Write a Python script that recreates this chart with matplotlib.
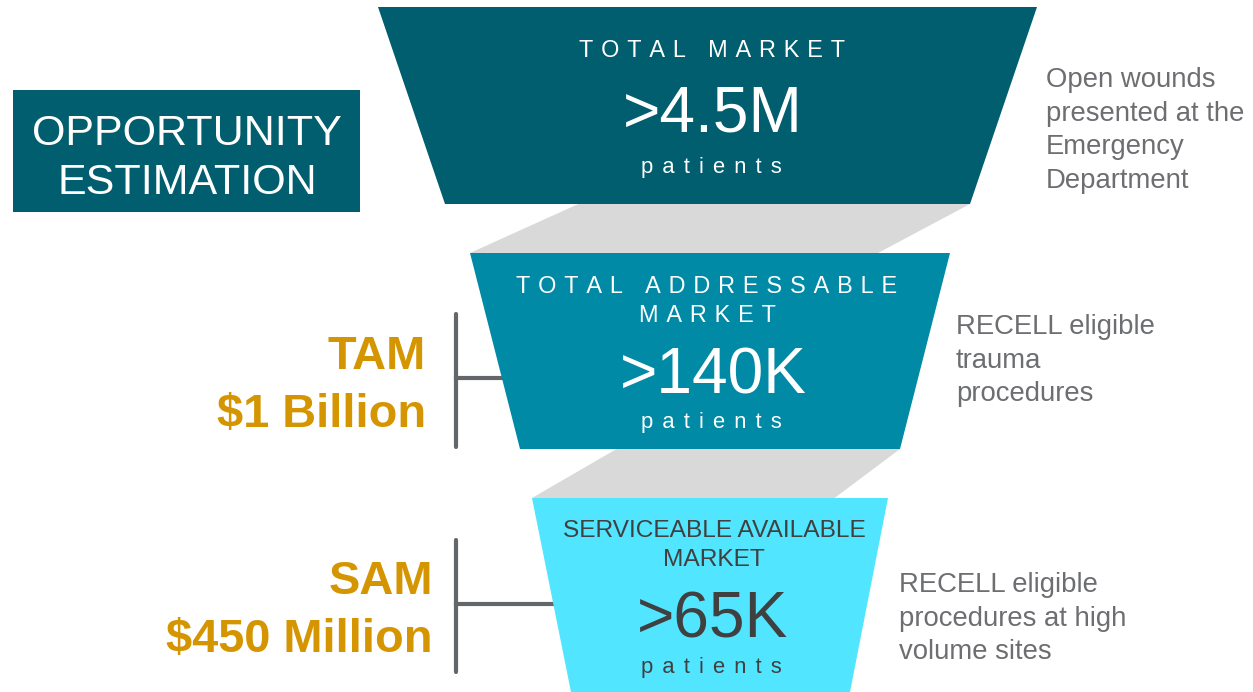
import matplotlib.pyplot as plt
from matplotlib.patches import Polygon, Rectangle

plt.rcParams['font.family'] = ['Liberation Sans', 'DejaVu Sans']

# --- content ---------------------------------------------------------------
headline = ["OPPORTUNITY", "ESTIMATION"]
stage_titles = [["TOTAL MARKET"],
                ["TOTAL ADDRESSABLE", "MARKET"],
                ["SERVICEABLE AVAILABLE", "MARKET"]]
stage_values = [">4.5M", ">140K", ">65K"]
stage_unit = "patients"
stage_notes = [
    ["Open wounds", "presented at the", "Emergency", "Department"],
    ["RECELL eligible", "trauma", "procedures"],
    ["RECELL eligible", "procedures at high", "volume sites"],
]
market_names = ["TAM", "SAM"]
market_sizes = ["$1 Billion", "$450 Million"]

# --- style -----------------------------------------------------------------
band_colors = ["#005e6e", "#008aa6", "#52e5ff"]
band_text = ["white", "white", "#404040"]
band_tracked = [True, True, False]
connector_color = "#d9d9d9"
gold = "#d49500"
note_color = "#6d6e71"
bracket_color = "#63666a"

# --- layout (pixel space, y down) ------------------------------------------
W, H = 1253, 692
# y_top, y_bottom, x top-left, x top-right, x bottom-left, x bottom-right
bands = [
    (7, 204, 378, 1037, 445, 970),
    (253, 449, 470, 950, 520, 900),
    (498, 692, 532, 888, 571, 850),
]
title_base = [[57], [293, 322], [537, 566]]
title_x = [712, 707, 714]
value_base = [132, 394, 637]
unit_base = [173, 428, 673]
text_x = 713
note_pos = [(1046, 87), (956, 334), (899, 592)]
note_step = 33.7
brackets = [(456, 314, 447, 378, 505), (456, 540, 672, 604, 560)]
label_right = [426, 433]
label_base = [(369, 427), (594, 652)]


def pt(px):
    return px * 0.72


def tracked(s, gap="\u2004"):
    return gap.join(s)


fig = plt.figure(figsize=(W / 100, H / 100), dpi=100)
ax = fig.add_axes([0, 0, 1, 1])
ax.set_xlim(0, W)
ax.set_ylim(H, 0)
ax.axis("off")

# grey ribbons between funnel stages
for upper, lower in zip(bands[:-1], bands[1:]):
    w_up = upper[5] - upper[4]
    w_lo = lower[3] - lower[2]
    pts = [(upper[4] + 0.254 * w_up, upper[1]), (upper[5], upper[1]),
           (lower[3] - 0.15 * w_lo, lower[0]), (lower[2], lower[0])]
    ax.add_patch(Polygon(pts, closed=True, fc=connector_color, ec="none", zorder=1))

# brackets
for x, y0, y1, ym, xe in brackets:
    ax.plot([x, x], [y0, y1], color=bracket_color, lw=3, solid_capstyle="round", zorder=1)
    ax.plot([x, xe], [ym, ym], color=bracket_color, lw=3, zorder=1)

# funnel stages
for i, (yt, yb, xtl, xtr, xbl, xbr) in enumerate(bands):
    ax.add_patch(Polygon([(xtl, yt), (xtr, yt), (xbr, yb), (xbl, yb)],
                         closed=True, fc=band_colors[i], ec="none", zorder=2))
    for line, yb_ in zip(stage_titles[i], title_base[i]):
        txt = tracked(line) if band_tracked[i] else line
        ax.text(title_x[i], yb_, txt, ha="center", va="baseline",
                fontsize=pt(23.5 if band_tracked[i] else 24.5),
                color=band_text[i], zorder=3)
    ax.text(text_x, value_base[i], stage_values[i], ha="center", va="baseline",
            fontsize=pt(64), color=band_text[i], zorder=3)
    ax.text(text_x - 2, unit_base[i], tracked(stage_unit, "\u2005\u2006"), ha="center",
            va="baseline", fontsize=pt(22), color=band_text[i], zorder=3)

    nx, ny = note_pos[i]
    for k, line in enumerate(stage_notes[i]):
        ax.text(nx, ny + k * note_step, line, ha="left", va="baseline",
                fontsize=pt(27.5), color=note_color)

# TAM / SAM labels
for name, size, xr, (b0, b1) in zip(market_names, market_sizes, label_right, label_base):
    ax.text(xr, b0, name, ha="right", va="baseline", fontsize=pt(47),
            fontweight="bold", color=gold)
    ax.text(xr, b1, size, ha="right", va="baseline", fontsize=pt(47),
            fontweight="bold", color=gold)

# headline box
ax.add_patch(Rectangle((13, 90), 347, 122, fc=band_colors[0], ec="none"))
ax.text(187, 145, headline[0], ha="center", va="baseline", fontsize=pt(43), color="white")
ax.text(187, 194, headline[1], ha="center", va="baseline", fontsize=pt(43), color="white")

fig.savefig("out.png", dpi=100, facecolor="white")
